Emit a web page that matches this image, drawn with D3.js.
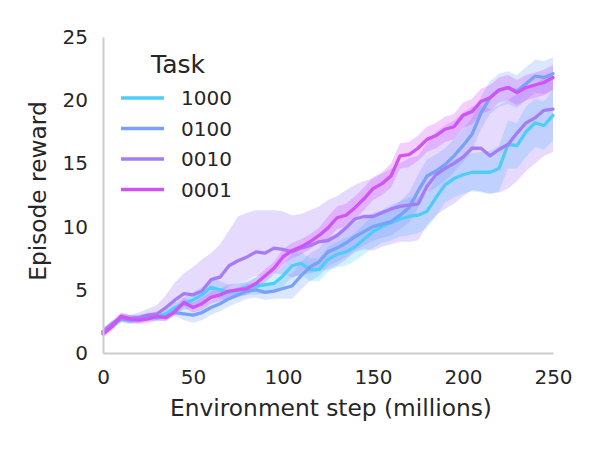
<!DOCTYPE html>
<html><head><meta charset="utf-8">
<script src="https://cdn.jsdelivr.net/npm/d3@7"></script>
<style>body{margin:0;background:#fff}svg{display:block}text{font-family:"DejaVu Sans",sans-serif;fill:#262626}</style>
</head><body><svg id="c" width="600" height="450"></svg>
<script>
const tasks = ["1000","0100","0010","0001"];
const lineColors = ["#4fcdf9","#78a1f9","#a67cf6","#cf54f6"];
const bandColors = ["#33ccff","#6699ff","#9966ff","#cc33ff"];
const steps = d3.range(0, 251, 5);
const xTicks = [0,50,100,150,200,250];
const yTicks = [0,5,10,15,20,25];

const mean1000 = [1.6,2.1,2.8,2.7,2.7,2.9,2.9,3.1,3.6,3.9,4.2,4.6,5.2,5.0,4.8,5.0,5.2,5.3,5.4,5.5,6.1,6.9,7.1,6.6,6.6,7.4,7.8,8.0,8.4,9.0,9.6,10.0,10.3,10.6,10.8,10.9,11.2,12.3,13.3,13.8,14.1,14.3,14.3,14.3,14.6,16.5,16.4,17.5,18.2,18.0,18.8];
const lo1000 = [1.3,1.8,2.5,2.4,2.4,2.6,2.6,2.8,3.2,3.4,3.6,4.0,4.5,4.3,4.2,4.4,4.6,4.6,4.7,4.8,5.3,6.0,6.2,5.7,5.7,6.4,6.8,6.9,7.3,7.8,8.3,8.7,8.9,9.2,9.3,9.5,9.9,10.8,11.9,12.3,12.6,12.8,12.7,12.6,12.8,14.6,14.6,15.5,16.3,16.1,16.8];
const hi1000 = [1.9,2.4,3.1,3.0,3.0,3.2,3.2,3.5,4.0,4.4,4.8,5.2,5.9,5.7,5.4,5.6,5.8,6.0,6.1,6.2,6.9,7.8,8.0,7.5,7.5,8.4,8.8,9.1,9.5,10.2,10.9,11.3,11.7,12.0,12.3,12.3,12.6,13.8,14.7,15.3,15.6,15.8,15.9,16.0,16.4,18.4,18.2,19.5,20.1,19.9,20.8];

const mean0100 = [1.7,2.2,2.7,2.6,2.7, 2.8,2.8,2.9,3.2,3.1, 3.0,3.2,3.6,3.9,4.3, 4.6,4.9,5.0,4.8,4.9, 5.1,5.3,6.1,6.8,7.2, 8.0,8.3,8.7,9.2,9.6, 10.0,10.2,10.4,10.9,11.5, 12.8,14.0,14.4,14.9,15.6, 16.4,17.3,19.0,20.2,20.8, 21.0,20.7,21.3,21.9,21.8, 22.1];
const lo0100 = [1.4,1.9,2.4,2.3,2.4, 2.5,2.5,2.6,2.9,2.6, 2.4,2.6,3.0,3.3,3.7, 4.0,4.3,4.4,4.2,4.3, 4.3,4.3,5.0,5.7,6.1, 6.9,7.2,7.6,8.1,8.5, 8.9,9.1,9.3,9.8,10.3, 11.5,12.7,13.1,13.6,14.3, 15.1,16.0,17.7,18.9,19.5, 19.7,19.4,20.0,20.6,20.5, 20.8];
const hi0100 = [2.0,2.5,3.0,2.9,3.0, 3.1,3.1,3.2,3.5,3.6, 3.6,3.8,4.2,4.5,4.9, 5.2,5.5,5.6,5.4,5.5, 5.9,6.3,7.2,7.9,8.3, 9.1,9.4,9.8,10.3,10.7, 11.1,11.3,11.5,12.0,12.7, 14.1,15.3,15.7,16.2,16.9, 17.7,18.6,20.3,21.5,22.1, 22.3,22.0,22.6,23.2,23.1, 23.4];

const mean0010 = [1.7,2.3,2.8,2.7,2.8, 3.0,3.1,3.6,4.2,4.7, 4.6,4.9,5.8,6.0,6.9, 7.3,7.6,8.0,7.9,8.3, 8.2,8.0,8.3,8.5,8.8, 8.9,9.3,9.9,10.6,10.8, 10.8,11.1,11.4,11.6,11.7, 11.8,13.2,14.1,14.6,15.0, 15.5,16.2,16.2,15.6,16.1, 16.5,17.4,18.2,18.6,19.2, 19.3];
const lo0010 = [1.4,2.0,2.5,2.4,2.5, 2.7,2.7,3.1,3.4,3.7, 3.6,3.8,4.5,4.6,5.3, 5.6,5.8,6.1,6.0,6.3, 6.2,6.0,6.2,6.3,6.5, 6.6,6.9,7.4,8.0,8.2, 8.1,8.4,8.6,8.8,8.8, 8.9,10.1,10.9,11.4,11.8, 12.4,12.9,12.8,12.6,12.7, 13.0,13.6,14.4,15.0,15.6, 15.9];
const hi0010 = [2.0,2.6,3.1,3.0,3.2, 3.5,3.8,4.6,5.6,6.3, 6.8,7.4,7.9,8.6,9.7, 10.8,11.1,11.3,11.3,11.3, 11.2,10.9,11.0,11.3,11.6, 12.1,12.4,12.9,13.3,13.6, 13.8,14.2,14.6,15.0,15.4, 15.6,16.6,17.5,18.0,18.4, 19.0,19.5,19.6,19.3,19.6, 20.0,20.5,21.0,21.3,21.8, 22.0];

const mean0001 = [1.5,2.1,2.9,2.7,2.6, 2.7,2.9,2.8,3.3,4.0, 3.6,3.9,4.4,4.6,4.9, 5.0,5.1,5.5,6.1,6.7, 7.6,8.1,8.4,8.8,9.3, 9.9,10.7,10.9,11.5,12.2, 13.0,13.4,14.0,15.6,15.7, 16.2,16.9,17.2,17.7,17.9, 18.8,19.1,19.9,20.2,20.8, 21.0,20.6,21.0,21.2,21.4, 21.8];
const lo0001 = [1.2,1.8,2.6,2.4,2.3, 2.4,2.6,2.5,3.0,3.6, 3.2,3.4,3.9,4.1,4.4, 4.5,4.6,5.0,5.6,6.2, 7.0,7.5,7.8,8.2,8.7, 9.0,9.8,10.0,10.6,11.3, 12.1,12.5,13.1,14.6,14.7, 15.2,15.9,16.2,16.7,16.9, 17.8,18.1,18.9,19.2,19.8, 20.0,19.6,20.0,20.2,20.4, 20.8];
const hi0001 = [1.8,2.4,3.2,3.0,2.9, 3.0,3.2,3.1,3.6,4.4, 4.0,4.4,4.9,5.1,5.4, 5.5,5.6,6.0,6.6,7.2, 8.2,8.7,9.0,9.4,9.9, 10.8,11.6,11.8,12.4,13.1, 13.9,14.3,15.0,16.6,16.7, 17.2,17.9,18.2,18.7,18.9, 19.8,20.1,20.9,21.2,21.8, 22.0,21.6,22.0,22.2,22.4, 22.8];

const means = [mean1000, mean0100, mean0010, mean0001];
const los = [lo1000, lo0100, lo0010, lo0001];
const his = [hi1000, hi0100, hi0010, hi0001];

const svg = d3.select("#c");
const L = 103, R = 553, T = 37, B = 353;
const x = d3.scaleLinear().domain([0, 250]).range([L, R]);
const y = d3.scaleLinear().domain([0, 25]).range([B, T]);

// bands
const area = d3.area().x((d,i)=>x(steps[i])).y0((d,i)=>y(d[0])).y1((d,i)=>y(d[1]));
tasks.forEach((t, k) => {
  const data = los[k].map((v,i)=>[v, his[k][i]]);
  svg.append("path").datum(data).attr("d", area)
    .attr("fill", bandColors[k]).attr("fill-opacity", 0.24).attr("stroke","none");
});
// lines
const line = d3.line().x((d,i)=>x(steps[i])).y(d=>y(d));
tasks.forEach((t, k) => {
  svg.append("path").datum(means[k]).attr("d", line)
    .attr("fill","none").attr("stroke", lineColors[k]).attr("stroke-width", 3.3)
    .attr("stroke-linejoin","round").attr("stroke-linecap","round");
});

// axes
const xAxis = svg.append("g").attr("transform", `translate(0,${B})`)
  .call(d3.axisBottom(x).tickValues(xTicks).tickSize(0).tickPadding(17));
const yAxis = svg.append("g").attr("transform", `translate(${L},0)`)
  .call(d3.axisLeft(y).tickValues(yTicks).tickSize(0).tickPadding(15));
[xAxis, yAxis].forEach(g => {
  g.select(".domain").attr("stroke", "#cccccc").attr("stroke-width", 2);
  g.selectAll("text").style("font-size", "20px").attr("fill", "#262626");
});

svg.append("text").attr("x", (L+R)/2 + 3).attr("y", 416).attr("text-anchor","middle")
  .style("font-size","23.3px").text("Environment step (millions)");
svg.append("text").attr("transform", `translate(46,${(T+B)/2 - 4}) rotate(-90)`)
  .attr("text-anchor","middle").style("font-size","23.3px").text("Episode reward");

// legend
const lg = svg.append("g");
lg.append("text").attr("x", 178).attr("y", 73).attr("text-anchor","middle")
  .style("font-size","25px").text("Task");
tasks.forEach((t,k) => {
  const yy = 98 + k*30.5;
  lg.append("line").attr("x1",121).attr("x2",164).attr("y1",yy).attr("y2",yy)
    .attr("stroke", lineColors[k]).attr("stroke-width",3.3);
  lg.append("text").attr("x",181).attr("y",yy+7).style("font-size","20px").text(t);
});
</script></body></html>
